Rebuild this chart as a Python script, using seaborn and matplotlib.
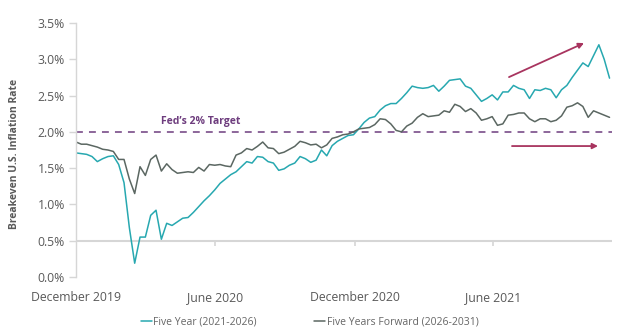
import numpy as np
import pandas as pd
import matplotlib
matplotlib.use("Agg")
import matplotlib.pyplot as plt
from matplotlib.lines import Line2D
import seaborn as sns

# ---------------- data ----------------
start_date = "2019-12-31"
five_year = [
    1.71, 1.70, 1.69, 1.66, 1.59, 1.63, 1.66, 1.67, 1.55, 1.30,
    0.68, 0.19, 0.55, 0.55, 0.85, 0.92, 0.52, 0.74, 0.71, 0.76,
    0.81, 0.82, 0.89, 0.97, 1.05, 1.12, 1.20, 1.29, 1.35, 1.41,
    1.45, 1.52, 1.59, 1.57, 1.66, 1.65, 1.59, 1.57, 1.47, 1.49,
    1.54, 1.57, 1.66, 1.63, 1.58, 1.61, 1.75, 1.67, 1.81, 1.87,
    1.91, 1.95, 1.96, 2.04, 2.13, 2.19, 2.21, 2.30, 2.36, 2.39,
    2.39, 2.46, 2.54, 2.63, 2.61, 2.60, 2.61, 2.64, 2.56, 2.63,
    2.71, 2.72, 2.73, 2.63, 2.60, 2.51, 2.42, 2.46, 2.51, 2.44,
    2.55, 2.55, 2.64, 2.60, 2.58, 2.46, 2.58, 2.57, 2.60, 2.58,
    2.47, 2.58, 2.64, 2.75, 2.85, 2.95, 2.90, 3.05, 3.20, 3.00,
    2.74,
]
five_years_forward = [
    1.86, 1.83, 1.83, 1.81, 1.79, 1.76, 1.75, 1.73, 1.62, 1.62,
    1.35, 1.15, 1.52, 1.40, 1.62, 1.68, 1.46, 1.56, 1.48, 1.43,
    1.44, 1.45, 1.44, 1.51, 1.46, 1.55, 1.54, 1.55, 1.53, 1.52,
    1.68, 1.71, 1.77, 1.75, 1.80, 1.86, 1.78, 1.77, 1.70, 1.72,
    1.76, 1.80, 1.87, 1.85, 1.82, 1.83, 1.78, 1.82, 1.91, 1.93,
    1.96, 1.97, 2.00, 2.04, 2.05, 2.06, 2.10, 2.18, 2.17, 2.11,
    2.02, 2.00, 2.08, 2.12, 2.20, 2.25, 2.21, 2.22, 2.23, 2.29,
    2.27, 2.38, 2.35, 2.28, 2.32, 2.26, 2.16, 2.18, 2.21, 2.09,
    2.11, 2.23, 2.24, 2.26, 2.26, 2.18, 2.14, 2.18, 2.18, 2.14,
    2.16, 2.22, 2.34, 2.36, 2.40, 2.35, 2.20, 2.29, 2.26, 2.23,
    2.20,
]
series_names = ["Five Year (2021-2026)", "Five Years Forward (2026-2031)"]
tick_dates = ["2019-12-31", "2020-06-30", "2020-12-31", "2021-06-30"]
tick_labels = ["December 2019", "June 2020", "December 2020", "June 2021"]
y_ticks = [0.0, 0.5, 1.0, 1.5, 2.0, 2.5, 3.0, 3.5]
target_rate = 2.0
axis_cross = 0.5

# ---------------- style ----------------
teal = "#27a8b0"
dark_gray = "#5b6762"
purple = "#6e3d7e"
arrow_col = "#a8345f"
text_gray = "#595959"
axis_gray = "#d6d6d6"

sns.set_theme(style="white")
plt.rcParams["font.family"] = ["Open Sans", "DejaVu Sans"]

dates = pd.date_range(start_date, periods=len(five_year), freq="7D")
n = len(dates)
df = pd.DataFrame({
    "date": list(dates) + list(dates),
    "value": five_year + five_years_forward,
    "series": [series_names[0]] * n + [series_names[1]] * n,
})

W, H = 623, 334
fig = plt.figure(figsize=(W / 100, H / 100), dpi=100)
ax = fig.add_axes([76 / W, 1 - 277 / H, (612 - 76) / W, (277 - 23) / H])

sns.lineplot(data=df, x="date", y="value", hue="series",
             palette=[teal, dark_gray], linewidth=1.1, ax=ax, legend=False)

t0 = pd.Timestamp(start_date)
def px2date(px):
    return t0 + pd.Timedelta(days=(px - 76) * 1.312)

ax.set_xlim(t0, px2date(612))
ax.set_ylim(0, 3.5)

# axes styling
for s in ["top", "right", "bottom"]:
    ax.spines[s].set_visible(False)
ax.spines["left"].set_color(axis_gray)
ax.spines["left"].set_linewidth(1.0)

ax.set_yticks(y_ticks)
ax.set_yticklabels([f"{v:.1f}%" for v in y_ticks])
ax.tick_params(axis="y", length=5, width=1, color=axis_gray,
               labelcolor=text_gray, labelsize=8.8, pad=3, left=True)

tdates = pd.to_datetime(tick_dates)
ax.set_xticks(tdates)
ax.set_xticklabels(tick_labels)
ax.tick_params(axis="x", length=0, labelcolor=text_gray, labelsize=8.8, pad=10)
ax.set_xlabel("")
ax.set_ylabel("")

# horizontal axis line crossing at 0.5% with ticks
ax.axhline(axis_cross, color=axis_gray, lw=1.5, zorder=0)
ax.vlines(tdates[1:], axis_cross - 5 / 72.6, axis_cross, color=axis_gray, lw=1.2, zorder=0)

# Fed target
ax.axhline(target_rate, color=purple, lw=1.1, linestyle=(0, (4.5, 4)), zorder=1)
ax.text(px2date(201), target_rate + 10 / 72.6, "Fed\u2019s 2% Target",
        ha="center", va="center", fontsize=7.5, fontweight="bold", color=purple)

# arrows
ax.annotate("", xy=(px2date(584), (277 - 43) / 72.6), xytext=(px2date(509), (277 - 77) / 72.6),
            arrowprops=dict(arrowstyle="-|>", color=arrow_col, lw=1.3,
                            mutation_scale=8, shrinkA=0, shrinkB=0))
ax.annotate("", xy=(px2date(598), (277 - 146) / 72.6), xytext=(px2date(512), (277 - 146) / 72.6),
            arrowprops=dict(arrowstyle="-|>", color=arrow_col, lw=1.3,
                            mutation_scale=8, shrinkA=0, shrinkB=0))

# y label
fig.text(15 / W, 1 - 154 / H, "Breakeven U.S. Inflation Rate", rotation=90,
         ha="center", va="center", fontsize=7.5, fontweight="bold", color=text_gray)

# legend
handles = [Line2D([0], [0], color=teal, lw=1.1), Line2D([0], [0], color=dark_gray, lw=1.1)]
fig.legend(handles, series_names, loc="center", bbox_to_anchor=(309.5 / W, 1 - 322 / H),
           ncol=2, frameon=False, handlelength=1.1, handletextpad=0.1,
           columnspacing=5.5, fontsize=7.5, labelcolor="#666666")

fig.savefig("out.png", dpi=100)
